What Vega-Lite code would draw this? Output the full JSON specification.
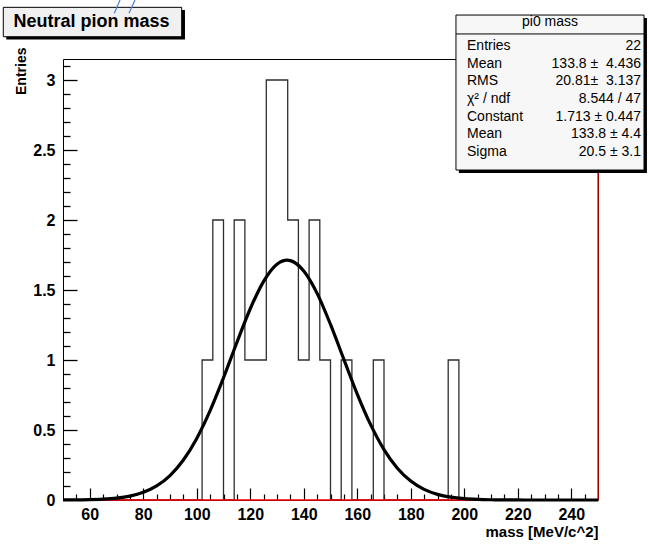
{
  "$schema": "https://vega.github.io/schema/vega-lite/v6.json",
  "width": 535,
  "height": 441,
  "autosize": {"type": "none"},
  "padding": {"left": 63, "top": 59, "right": 51, "bottom": 45},
  "background": "white",
  "config": {
    "view": {"stroke": "black", "strokeWidth": 1},
    "font": "Liberation Sans, Arial, sans-serif"
  },
  "datasets": {
    "hist": [
      {"m": 50, "n": 0}, {"m": 54, "n": 0}, {"m": 58, "n": 0}, {"m": 62, "n": 0}, {"m": 66, "n": 0},
      {"m": 70, "n": 0}, {"m": 74, "n": 0}, {"m": 78, "n": 0}, {"m": 82, "n": 0}, {"m": 86, "n": 0},
      {"m": 90, "n": 0}, {"m": 94, "n": 0}, {"m": 98, "n": 0}, {"m": 102, "n": 1}, {"m": 106, "n": 2},
      {"m": 110, "n": 0}, {"m": 114, "n": 2}, {"m": 118, "n": 1}, {"m": 122, "n": 1}, {"m": 126, "n": 3},
      {"m": 130, "n": 3}, {"m": 134, "n": 2}, {"m": 138, "n": 1}, {"m": 142, "n": 2}, {"m": 146, "n": 1},
      {"m": 150, "n": 0}, {"m": 154, "n": 1}, {"m": 158, "n": 0}, {"m": 162, "n": 0}, {"m": 166, "n": 1},
      {"m": 170, "n": 0}, {"m": 174, "n": 0}, {"m": 178, "n": 0}, {"m": 182, "n": 0}, {"m": 186, "n": 0},
      {"m": 190, "n": 0}, {"m": 194, "n": 1}, {"m": 198, "n": 0}, {"m": 202, "n": 0}, {"m": 206, "n": 0},
      {"m": 210, "n": 0}, {"m": 214, "n": 0}, {"m": 218, "n": 0}, {"m": 222, "n": 0}, {"m": 226, "n": 0},
      {"m": 230, "n": 0}, {"m": 234, "n": 0}, {"m": 238, "n": 0}, {"m": 242, "n": 0}, {"m": 246, "n": 0},
      {"m": 250, "n": 0}
    ],
    "fit": [
      {"m": 50, "f": 0.0004}, {"m": 55, "f": 0.0011}, {"m": 60, "f": 0.0026}, {"m": 65, "f": 0.0061},
      {"m": 70, "f": 0.0135}, {"m": 75, "f": 0.028}, {"m": 80, "f": 0.0547}, {"m": 85, "f": 0.1007},
      {"m": 90, "f": 0.1747}, {"m": 95, "f": 0.2858}, {"m": 100, "f": 0.44}, {"m": 105, "f": 0.638},
      {"m": 110, "f": 0.873}, {"m": 115, "f": 1.125}, {"m": 120, "f": 1.366}, {"m": 125, "f": 1.562},
      {"m": 130, "f": 1.684}, {"m": 133.8, "f": 1.713}, {"m": 135, "f": 1.71}, {"m": 140, "f": 1.636},
      {"m": 145, "f": 1.476}, {"m": 150, "f": 1.254}, {"m": 155, "f": 1.004}, {"m": 160, "f": 0.757},
      {"m": 165, "f": 0.538}, {"m": 170, "f": 0.36}, {"m": 175, "f": 0.227}, {"m": 180, "f": 0.135},
      {"m": 185, "f": 0.0757}, {"m": 190, "f": 0.04}, {"m": 195, "f": 0.02}, {"m": 200, "f": 0.0093},
      {"m": 205, "f": 0.0041}, {"m": 210, "f": 0.0017}, {"m": 215, "f": 0.0007}, {"m": 220, "f": 0.0002},
      {"m": 225, "f": 0.0001}, {"m": 230, "f": 0}, {"m": 235, "f": 0}, {"m": 240, "f": 0},
      {"m": 245, "f": 0}, {"m": 250, "f": 0}
    ]
  },
  "resolve": {"axis": {"x": "independent", "y": "independent"}},
  "layer": [
    {
      "data": {"name": "hist"},
      "mark": {"type": "line", "interpolate": "step-after", "color": "#2e2e2e", "strokeWidth": 1.3},
      "encoding": {
        "x": {
          "field": "m", "type": "quantitative",
          "scale": {"domain": [50, 250], "nice": false, "zero": false},
          "axis": {
            "orient": "bottom", "values": [60, 80, 100, 120, 140, 160, 180, 200, 220, 240],
            "ticks": false, "domain": false, "grid": false,
            "labelFontSize": 16, "labelFontWeight": "bold", "labelColor": "black", "labelPadding": 6,
            "title": "mass [MeV/c^2]", "titleFontSize": 15, "titleFontWeight": "bold", "titleColor": "black",
            "titleAlign": "right", "titleBaseline": "middle", "titleX": 535, "titleY": 31
          }
        },
        "y": {
          "field": "n", "type": "quantitative",
          "scale": {"domain": [0, 3.15], "nice": false, "zero": true},
          "axis": {
            "orient": "left", "values": [0, 0.5, 1, 1.5, 2, 2.5, 3], "format": "~g",
            "ticks": false, "domain": false, "grid": false,
            "labelFontSize": 16, "labelFontWeight": "bold", "labelColor": "black", "labelPadding": 8,
            "title": "Entries", "titleFontSize": 14, "titleFontWeight": "bold", "titleColor": "black",
            "titleAngle": -90, "titleAlign": "right", "titleBaseline": "middle", "titleX": -42, "titleY": -12
          }
        }
      }
    },
    {
      "data": {"values": [{}]},
      "mark": {"type": "rule", "color": "#ff0000", "strokeWidth": 1.3},
      "encoding": {
        "y": {
          "datum": 0, "type": "quantitative",
          "scale": {"domain": [0, 3.15], "nice": false},
          "axis": {
            "orient": "left", "labels": false, "domain": false, "grid": false, "title": null,
            "ticks": true, "tickSize": -7, "tickColor": "black", "tickWidth": 1.3, "tickOpacity": 1,
            "values": [0.1, 0.2, 0.3, 0.4, 0.6, 0.7, 0.8, 0.9, 1.1, 1.2, 1.3, 1.4, 1.6, 1.7, 1.8, 1.9, 2.1, 2.2, 2.3, 2.4, 2.6, 2.7, 2.8, 2.9, 3.1]
          }
        }
      }
    },
    {
      "data": {"values": [{}]},
      "mark": {"type": "rule", "color": "#ff0000", "strokeWidth": 1.3},
      "encoding": {
        "x": {
          "datum": 250, "type": "quantitative",
          "scale": {"domain": [50, 250], "nice": false, "zero": false},
          "axis": {
            "orient": "bottom", "labels": false, "domain": false, "grid": false, "title": null,
            "ticks": true, "tickSize": -6, "tickColor": "black", "tickWidth": 1.2,
            "values": [55, 65, 70, 75, 85, 90, 95, 105, 110, 115, 125, 130, 135, 145, 150, 155, 165, 170, 175, 185, 190, 195, 205, 210, 215, 225, 230, 235, 245]
          }
        }
      }
    },
    {
      "data": {"name": "fit"},
      "mark": {"type": "line", "interpolate": "monotone", "color": "black", "strokeWidth": 3.2},
      "encoding": {
        "x": {
          "field": "m", "type": "quantitative",
          "scale": {"domain": [50, 250], "nice": false, "zero": false},
          "axis": {
            "orient": "bottom", "labels": false, "domain": false, "grid": false, "title": null,
            "ticks": true, "tickSize": -12, "tickColor": "black", "tickWidth": 1.2,
            "values": [60, 80, 100, 120, 140, 160, 180, 200, 220, 240]
          }
        },
        "y": {
          "field": "f", "type": "quantitative",
          "scale": {"domain": [0, 3.15], "nice": false},
          "axis": {
            "orient": "left", "labels": false, "domain": false, "grid": false, "title": null,
            "ticks": true, "tickSize": -14, "tickColor": "black", "tickWidth": 1.3, "tickOpacity": 1,
            "values": [0.5, 1, 1.5, 2, 2.5, 3]
          }
        }
      }
    },
    {
      "data": {"values": [{}]},
      "mark": {"type": "rect", "color": "black"},
      "encoding": {
        "x": {"datum": 198.0, "type": "quantitative", "axis": null},
        "x2": {"datum": 268.3},
        "y": {"datum": 3.443, "type": "quantitative", "axis": null},
        "y2": {"datum": 2.336}
      }
    },
    {
      "data": {"values": [{}]},
      "mark": {"type": "rect", "fill": "#f7f7f7", "stroke": "black", "strokeWidth": 1},
      "encoding": {
        "x": {"datum": 196.9, "type": "quantitative", "axis": null},
        "x2": {"datum": 267.2},
        "y": {"datum": 3.464, "type": "quantitative", "axis": null},
        "y2": {"datum": 2.357}
      }
    },
    {
      "data": {"values": [{}]},
      "mark": {"type": "rule", "color": "black", "strokeWidth": 1},
      "encoding": {
        "x": {"datum": 196.9, "type": "quantitative", "axis": null},
        "x2": {"datum": 267.2},
        "y": {"datum": 3.329, "type": "quantitative", "axis": null}
      }
    },
    {
      "data": {"values": [{}]},
      "mark": {"type": "text", "text": "pi0 mass", "fontSize": 14, "align": "center", "baseline": "middle", "color": "black"},
      "encoding": {
        "x": {"datum": 232.06, "type": "quantitative", "axis": null},
        "y": {"datum": 3.414, "type": "quantitative", "axis": null}
      }
    },
    {
      "data": {"values": [{}]},
      "mark": {
        "type": "text",
        "text": ["Entries", "Mean", "RMS", "χ² / ndf", "Constant", "Mean", "Sigma"],
        "fontSize": 14, "lineHeight": 17.7, "align": "left", "baseline": "middle", "color": "black"
      },
      "encoding": {
        "x": {"datum": 201.03, "type": "quantitative", "axis": null},
        "y": {"datum": 3.243, "type": "quantitative", "axis": null}
      }
    },
    {
      "data": {"values": [{}]},
      "mark": {
        "type": "text",
        "text": ["22", "133.8 ±\u00a0 4.436", "20.81±\u00a0 3.137", "8.544 / 47", "1.713 ± 0.447", "133.8 ± 4.4", "20.5 ± 3.1"],
        "fontSize": 14, "lineHeight": 17.7, "align": "right", "baseline": "middle", "color": "black"
      },
      "encoding": {
        "x": {"datum": 266.07, "type": "quantitative", "axis": null},
        "y": {"datum": 3.243, "type": "quantitative", "axis": null}
      }
    },
    {
      "data": {"values": [{}]},
      "mark": {"type": "rect", "color": "black"},
      "encoding": {
        "x": {"datum": 28.8, "type": "quantitative", "axis": null},
        "x2": {"datum": 95.6},
        "y": {"datum": 3.5, "type": "quantitative", "axis": null},
        "y2": {"datum": 3.289}
      }
    },
    {
      "data": {"values": [{}]},
      "mark": {"type": "rect", "fill": "#f0f0f0", "stroke": "black", "strokeWidth": 1},
      "encoding": {
        "x": {"datum": 27.68, "type": "quantitative", "axis": null},
        "x2": {"datum": 94.37},
        "y": {"datum": 3.519, "type": "quantitative", "axis": null},
        "y2": {"datum": 3.309}
      }
    },
    {
      "data": {"values": [{}]},
      "mark": {"type": "text", "text": "Neutral pion mass", "fontSize": 18, "fontWeight": "bold", "align": "center", "baseline": "middle", "color": "black"},
      "encoding": {
        "x": {"datum": 60.65, "type": "quantitative", "axis": null},
        "y": {"datum": 3.416, "type": "quantitative", "axis": null}
      }
    },
    {
      "data": {"values": [{}]},
      "mark": {"type": "rule", "color": "#4a7fd0", "strokeWidth": 1.2},
      "encoding": {
        "x": {"datum": 71.31, "type": "quantitative", "axis": null},
        "x2": {"datum": 69.18},
        "y": {"datum": 3.571, "type": "quantitative", "axis": null},
        "y2": {"datum": 3.476}
      }
    },
    {
      "data": {"values": [{}]},
      "mark": {"type": "rule", "color": "#4a7fd0", "strokeWidth": 1.2},
      "encoding": {
        "x": {"datum": 76.92, "type": "quantitative", "axis": null},
        "x2": {"datum": 74.67},
        "y": {"datum": 3.571, "type": "quantitative", "axis": null},
        "y2": {"datum": 3.476}
      }
    }
  ]
}
